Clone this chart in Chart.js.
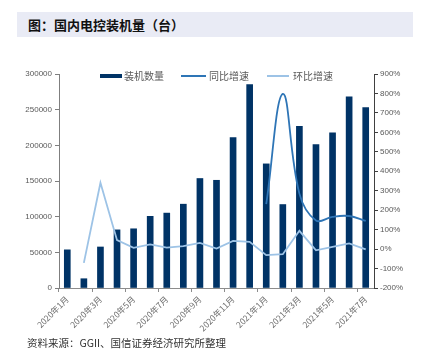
<!DOCTYPE html>
<html>
<head>
<meta charset="utf-8">
<script src="https://cdn.jsdelivr.net/npm/chart.js@4"></script>
<style>
  html, body { margin: 0; padding: 0; background: #fff; width: 421px; height: 357px; overflow: hidden; }
  #wrap { position: relative; width: 421px; height: 357px; }
  #c { position: absolute; left: 0; top: 0; }
  #title { position: absolute; left: 17px; top: 12px; width: 396px; height: 25px; background: #E9EBF5;
           font-family: "Noto Sans CJK SC", sans-serif; font-weight: bold; font-size: 13px; color: #111;
           line-height: 25px; padding-left: 11px; box-sizing: border-box; }
  #source { position: absolute; left: 27px; top: 335px; font-family: "Noto Sans CJK SC", sans-serif;
            font-size: 10.5px; color: #333; line-height: 16px; }
</style>
</head>
<body>
<div id="wrap">
  <canvas id="c" width="421" height="357"></canvas>
  <div id="title">图：国内电控装机量（台）</div>
  <div id="source">资料来源：GGII、国信证券经济研究所整理</div>
</div>
<script>
const categories = ["2020年1月","2020年2月","2020年3月","2020年4月","2020年5月","2020年6月","2020年7月","2020年8月","2020年9月","2020年10月","2020年11月","2020年12月","2021年1月","2021年2月","2021年3月","2021年4月","2021年5月","2021年6月","2021年7月"];
const installs = [53500, 13000, 57500, 81500, 83000, 100500, 105000, 117500, 153500, 151000, 211000, 285000, 174000, 117000, 226500, 201000, 217500, 268000, 253000];
const yoyGrowth = [null, null, null, null, null, null, null, null, null, null, null, null, 231, 798, 285, 147, 166, 170, 145];
const momGrowth = [null, -71, 341, 46, 6, 24, 8, 15, 32, 3, 42, 37, -31, -26, 94, -6, 11, 29, -1];
const leftTicks = [0, 50000, 100000, 150000, 200000, 250000, 300000];
const rightTicks = [-200, -100, 0, 100, 200, 300, 400, 500, 600, 700, 800, 900];

const BAR = '#003366', YOY = '#2E75B6', MOM = '#9DC3E6';
const CJK = '"Noto Sans CJK SC", sans-serif';
const LAT = '"Liberation Sans", Arial, sans-serif';

const legendPlugin = {
  id: 'customLegend',
  afterDraw(chart) {
    const ctx = chart.ctx;
    ctx.save();
    const y = 76;
    ctx.fillStyle = BAR;
    ctx.fillRect(100, y - 2, 22, 4);
    ctx.lineWidth = 2;
    ctx.strokeStyle = YOY;
    ctx.beginPath(); ctx.moveTo(181, y); ctx.lineTo(206, y); ctx.stroke();
    ctx.strokeStyle = MOM;
    ctx.beginPath(); ctx.moveTo(267, y); ctx.lineTo(289, y); ctx.stroke();
    ctx.fillStyle = '#595959';
    ctx.font = '10px ' + CJK;
    ctx.textBaseline = 'middle';
    ctx.fillText(chart.data.datasets[0].label, 124, y);
    ctx.fillText(chart.data.datasets[1].label, 209, y);
    ctx.fillText(chart.data.datasets[2].label, 293, y);
    ctx.restore();
  }
};

new Chart(document.getElementById('c'), {
  type: 'bar',
  data: {
    labels: categories,
    datasets: [
      { type: 'bar', label: '装机数量', data: installs, backgroundColor: BAR, barThickness: 6, yAxisID: 'y', order: 3 },
      { type: 'line', label: '同比增速', data: yoyGrowth, borderColor: YOY, borderWidth: 1.8, pointRadius: 0,
        tension: 0.4, yAxisID: 'y1', order: 1, spanGaps: false },
      { type: 'line', label: '环比增速', data: momGrowth, borderColor: MOM, borderWidth: 1.8, pointRadius: 0,
        tension: 0, yAxisID: 'y1', order: 2 }
    ]
  },
  options: {
    responsive: false,
    animation: false,
    layout: { padding: { top: 74, left: 0, right: 0, bottom: 0 } },
    plugins: { legend: { display: false }, tooltip: { enabled: false } },
    scales: {
      x: {
        offset: true,
        afterFit(s) { s.height = 69; },
        border: { display: true, color: '#8c8c8c', width: 1 },
        grid: { offset: true, drawOnChartArea: false, drawTicks: true, tickLength: 4,
                color: (c) => (c.index % 2 === 0 ? '#8c8c8c' : 'rgba(0,0,0,0)') },
        ticks: { autoSkip: false, maxRotation: 45, minRotation: 45, padding: 2,
                 color: '#6e6e6e', font: { size: 8.5, family: CJK },
                 callback(v, i) { return i % 2 === 0 ? categories[i] : ''; } }
      },
      y: {
        position: 'left', min: 0, max: 300000,
        afterFit(s) { s.width = 59; },
        afterBuildTicks(s) { s.ticks = leftTicks.map(v => ({ value: v })); },
        border: { display: true, color: '#7f7f7f', width: 1 },
        grid: { drawOnChartArea: false, drawTicks: true, tickLength: 4, color: '#7f7f7f' },
        ticks: { padding: 3, color: '#595959', font: { size: 8, family: LAT },
                 callback(v) { return String(v); } }
      },
      y1: {
        position: 'right', min: -200, max: 900,
        afterFit(s) { s.width = 47; },
        afterBuildTicks(s) { s.ticks = rightTicks.map(v => ({ value: v })); },
        border: { display: true, color: '#404040', width: 1 },
        grid: { drawOnChartArea: false, drawTicks: true, tickLength: 4, color: '#404040' },
        ticks: { padding: 2, color: '#595959', font: { size: 8, family: LAT },
                 callback(v) { return v + '%'; } }
      }
    }
  },
  plugins: [legendPlugin]
});
</script>
</body>
</html>
